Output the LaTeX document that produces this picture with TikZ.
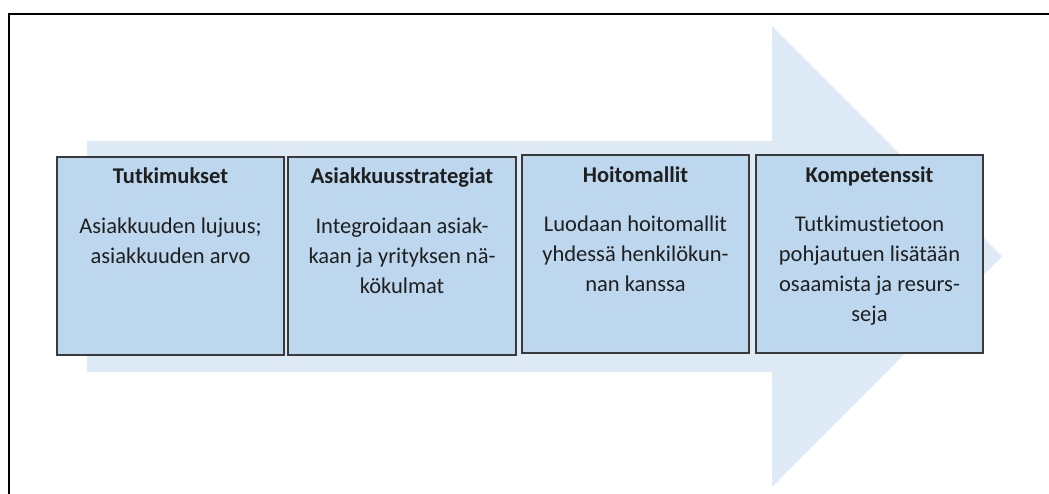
\documentclass[tikz,border=0pt]{standalone}
\usepackage{fontspec}
\setmainfont{Carlito}[Ligatures={NoCommon,NoContextual}]
\definecolor{arrowfill}{HTML}{DEEAF6}
\definecolor{boxfill}{HTML}{BDD7EE}
\definecolor{boxline}{HTML}{3A3A3A}
\definecolor{txt}{HTML}{1F1F1F}
\begin{document}
\begin{tikzpicture}[x=1pt,y=-1pt,
  stagebox/.style={draw=boxline,line width=1.4pt,fill=boxfill,inner sep=0pt},
  titletext/.style={anchor=base,font=\fontsize{22.5}{30}\selectfont\bfseries,text=txt,inner sep=0pt},
  bodytext/.style={anchor=base,align=center,font=\fontsize{22.5}{30}\selectfont,text=txt,inner sep=0pt}]
\useasboundingbox (0,0) rectangle (1049,493);
% frame (only top and left edges visible)
\draw[line width=2pt,black] (9,500) -- (9,13.5) -- (1060,13.5);
% big arrow
\fill[arrowfill] (87,141) -- (772,141) -- (772,26) -- (1002,256.5) -- (772,487) -- (772,372) -- (87,372) -- cycle;
% boxes
\node[stagebox,minimum width=227pt,minimum height=198pt] (b1) at (170.5,256) {};
\node[stagebox,minimum width=228pt,minimum height=198pt] (b2) at (402,256) {};
\node[stagebox,minimum width=227pt,minimum height=198pt] (b3) at (635.5,254) {};
\node[stagebox,minimum width=227pt,minimum height=198pt] (b4) at (869.5,254) {};
% titles
\node[titletext] (t1) at (170.5,183) {Tutkimukset};
\node[titletext] (t2) at (402,183) {Asiakkuusstrategiat};
\node[titletext] (t3) at (635.5,182) {Hoitomallit};
\node[titletext] (t4) at (869.5,182) {Kompetenssit};
% body texts (base anchor = baseline of last line)
\node[bodytext] (d1) at (170.5,263) {Asiakkuuden lujuus;\\asiakkuuden arvo};
\node[bodytext] (d2) at (402,293) {Integroidaan asiak-\\kaan ja yrityksen nä-\\kökulmat};
\node[bodytext] (d3) at (635.5,291) {Luodaan hoitomallit\\yhdessä henkilökun-\\nan kanssa};
\node[bodytext] (d4) at (869.5,321) {Tutkimust\kern0pt ietoon\\pohjautuen lisätään\\osaamista ja resurs-\\seja};
\end{tikzpicture}
\end{document}
